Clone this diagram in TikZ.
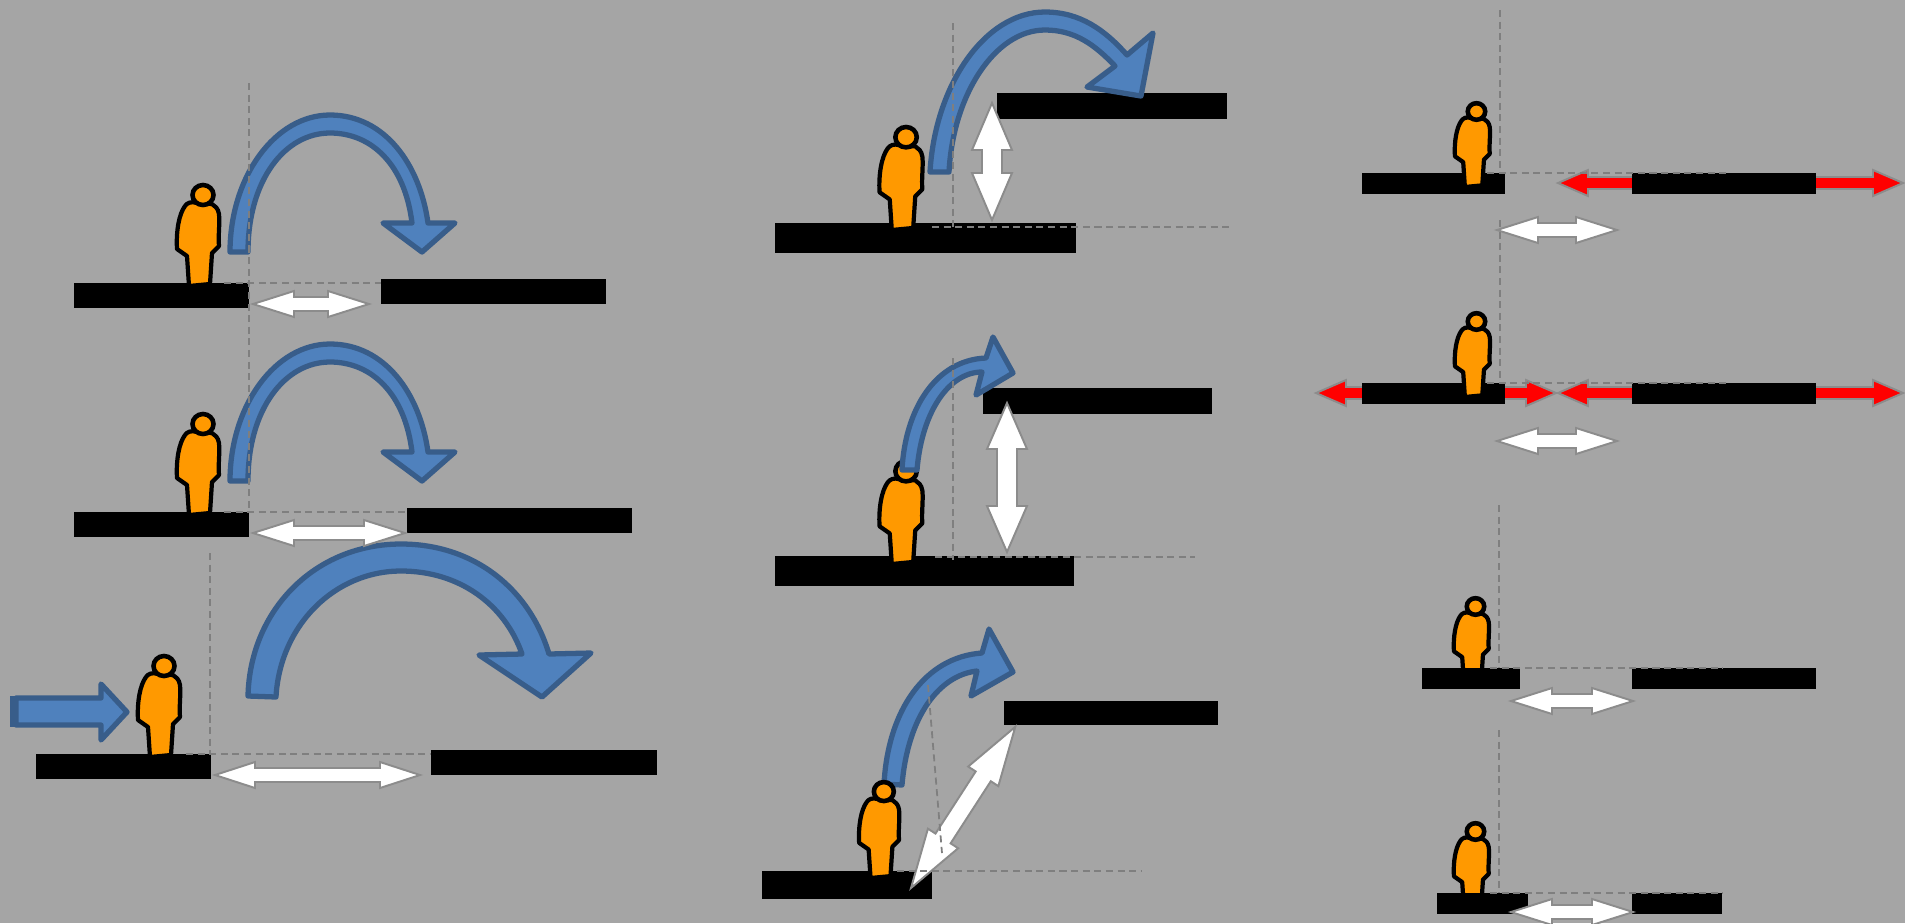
\documentclass[tikz,border=0pt]{standalone}
\usetikzlibrary{arrows.meta,calc}
\definecolor{backdrop}{HTML}{A5A5A5}
\definecolor{skin}{HTML}{FF9900}
\definecolor{hopfill}{HTML}{4F81BD}
\definecolor{hopedge}{HTML}{385D8A}
\definecolor{rimgrey}{HTML}{8C8C8C}
\definecolor{guidegrey}{HTML}{7F7F7F}
\tikzset{x=.01cm,y=-.01cm,
  slab/.style={fill=black},
  guide/.style={draw=guidegrey,dashed,dash pattern=on 2pt off 1.3pt,line width=.5pt},
  hop/.style={fill=hopfill,draw=hopedge,line width=1.5pt,line join=round},
  gap/.style={draw=rimgrey,line width=.55pt,line join=miter},
  man/.pic={
    \draw[fill=skin,line width=1.2pt,line join=round] (-11,0) -- (10,-2) -- (12,-33) -- (19,-40)
      .. controls (18,-50) and (20,-62) .. (19,-72) .. controls (18,-78) and (15,-80) .. (12,-82)
      -- (-3,-83) .. controls (-9,-85) and (-13,-83) .. (-15,-80)
      .. controls (-21,-72) and (-24,-55) .. (-23,-37) -- (-13,-30) -- cycle;
    \draw[fill=skin,line width=1.3pt] (3,-91) ellipse [x radius=10.5,y radius=10];},
  bighop/.pic={
    \draw[hop] (230,252) .. controls (230,177) and (275,115) .. (330,115)
      .. controls (385,115) and (420,165) .. (428,223) -- (455,223) -- (422,252) -- (383,223) -- (412,223)
      .. controls (405,165) and (372,133) .. (330,133) .. controls (285,133) and (248,180) .. (248,252) -- cycle;}}
\newcommand{\twoway}[8][white]{\path[gap,fill=#1,shift={(#2,#3)},rotate=#4] (0,0) -- (#7,#6) -- (#7,#8)
  -- ({#5-#7},#8) -- ({#5-#7},#6) -- (#5,0) -- ({#5-#7},-#6) -- ({#5-#7},-#8) -- (#7,-#8) -- (#7,-#6) -- cycle;}
\begin{document}
\begin{tikzpicture}
\path[use as bounding box,clip] (0,0) rectangle (1905,923);
\fill[backdrop] (0,0) rectangle (1905,923);
% red arrows, partly behind the slabs
\twoway[red]{1558}{183}{0}{345}{13}{30}{6}
\twoway[red]{1316}{393}{0}{240}{13}{30}{6}
\twoway[red]{1558}{393}{0}{345}{13}{30}{6}
% these two stand behind their slabs
\pic at (1473,682) [scale=.83] {man};
\pic at (1473,907) [scale=.83] {man};
\foreach \xa/\ya/\xb/\yb in {74/283/249/308,381/279/606/304,74/512/249/537,407/508/632/533,
  36/754/211/779,431/750/657/775,775/223/1076/253,997/93/1227/119,775/556/1074/586,983/388/1212/414,
  762/871/932/899,1004/701/1218/725,1362/173/1505/194,1632/173/1816/194,1362/383/1505/404,
  1632/383/1816/404,1422/668/1520/689,1632/668/1816/689,1437/893/1528/914,1632/893/1722/914}
  \fill[slab] (\xa,\ya) rectangle (\xb,\yb);
% curved arrow under the head
\draw[hop] (884,784) .. controls (888,710) and (925,657) .. (982,653) -- (989,629) -- (1013,672) -- (971,696) -- (977,671)
  .. controls (940,675) and (908,715) .. (902,785) -- cycle;
\pic at (200,286) {man};
\pic at (200,515) {man};
\pic at (161,757) {man};
\pic at (903,230) [scale=1.02] {man};
\pic at (903,564) [scale=1.02] {man};
\pic at (881,878) [scale=.95] {man};
\pic at (1474,187) [scale=.83] {man};
\pic at (1474,397) [scale=.83] {man};
% curved arrows
\pic at (0,0) {bighop};
\pic at (0,229) {bighop};
\draw[hop] (248,696) .. controls (250,610) and (315,544) .. (401,544) .. controls (475,544) and (530,590) .. (549,654)
  -- (591,653) -- (542,697) -- (479,655) -- (522,654) .. controls (505,605) and (460,571) .. (401,571)
  .. controls (335,571) and (280,625) .. (276,697) -- cycle;
\draw[hop] (930,172) .. controls (935,85) and (985,12) .. (1045,12) .. controls (1080,12) and (1105,30) .. (1127,55)
  -- (1153,33) -- (1141,96) -- (1087,87) -- (1115,66) .. controls (1095,45) and (1075,30) .. (1045,30)
  .. controls (995,30) and (953,95) .. (949,172) -- cycle;
\draw[hop] (902,470) .. controls (905,410) and (935,360) .. (986,358) -- (993,337) -- (1013,373) -- (976,395) -- (982,372)
  .. controls (950,372) and (922,410) .. (917,470) -- cycle;
% run-up
\fill[hopedge] (10,696) rectangle (22,727);
\draw[hop] (16,698) -- (101,698) -- (101,684) -- (127,712) -- (101,740) -- (101,725) -- (16,725) -- cycle;
% gaps
\twoway{253}{304}{0}{116}{13}{41}{7}
\twoway{253}{533}{0}{152}{13}{41}{7}
\twoway{215}{775}{0}{205}{13}{40}{7}
\twoway{992}{220}{90}{117}{20}{47}{10}
\twoway{1007}{552}{90}{149}{20}{46}{10}
\twoway{911}{888}{57.1}{192}{18}{59}{9}
\twoway{1497}{230}{0}{120}{13}{41}{7}
\twoway{1497}{441}{0}{120}{13}{41}{7}
\twoway{1511}{701}{0}{122}{13}{41}{7}
\twoway{1511}{912}{0}{122}{13}{41}{7}
% guides
\foreach \xa/\ya/\xb/\yb in {249/83/249/512,224/283/381/283,224/512/407/512,210/553/210/754,186/754/431/754,
  953/23/953/227,932/227/1233/227,953/358/953/560,935/557/1195/557,928/685/942/853,897/871/1142/871,
  1500/10/1500/173,1487/173/1726/173,1500/220/1500/383,1487/383/1726/383,
  1499/505/1499/668,1490/668/1723/668,1499/730/1499/893,1490/893/1723/893}
  \draw[guide] (\xa,\ya) -- (\xb,\yb);
\end{tikzpicture}
\end{document}
